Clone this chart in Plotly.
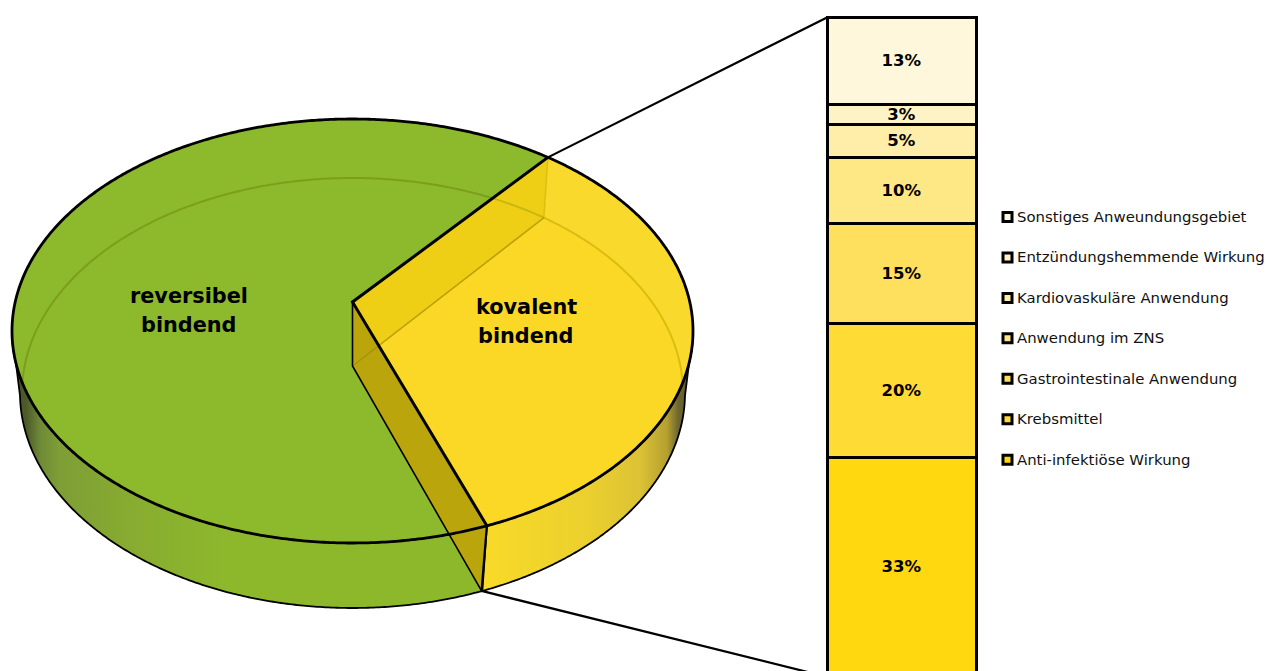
import numpy as np
import plotly.graph_objects as go

# Pie: binding mode shares
pie_labels = ["reversibel\nbindend", "kovalent\nbindend"]
pie_shares = [66.7, 33.3]
pie_start_deg = 39.8

# Column: breakdown of the covalent share, top to bottom
bar_categories = [
    "Sonstiges Anweundungsgebiet",
    "Entzündungshemmende Wirkung",
    "Kardiovaskuläre Anwendung",
    "Anwendung im ZNS",
    "Gastrointestinale Anwendung",
    "Krebsmittel",
    "Anti-infektiöse Wirkung",
]
bar_values = [13, 3, 5, 10, 15, 20, 33]
bar_colors = ["#FEF7DC", "#FEF3C6", "#FEEEAA", "#FEE886", "#FFE05E", "#FFDB36", "#FFD80F"]

W, H = 1268, 671
FONT = "DejaVu Sans"

# Perspective disc: far edge, apex, near edge (y) and half width for each face
TOP_FACE = dict(cx=352.5, far=119, apex=302, near=543, half=340.5)
BASE_FACE = dict(cx=352.5, far=178, apex=366, near=608, half=330.5)
# The visible outer wall flares a little wider than the see-through base line
WALL_BASE = dict(BASE_FACE, half=332.5)

# Column placement on the page
BAR_LEFT, BAR_RIGHT = 827, 976
BAR_TOP_PX, PX_PER_PCT = 17.5, 6.66


def project(face, deg):
    """Map clockwise-from-north angles on the disc to page coordinates."""
    t = np.radians(np.asarray(deg, dtype=float))
    u, v = np.sin(t), -np.cos(t)
    f, a, n = face["far"], face["apex"], face["near"]
    p = (2 * a - f - n) / (n - f)
    k = n + n * p - a
    w = 1 + p * v
    amp = face["half"] * np.sqrt(1 - p * p)
    return face["cx"] + amp * u / w, (k * v + a) / w


def arc(face, d0, d1, n=240):
    return project(face, np.linspace(d0, d1, n))


def inside_top(x, y):
    cy = (TOP_FACE["far"] + TOP_FACE["near"]) / 2
    ry = (TOP_FACE["near"] - TOP_FACE["far"]) / 2
    return ((x - TOP_FACE["cx"]) / TOP_FACE["half"]) ** 2 + ((y - cy) / ry) ** 2 < 1


split_a = pie_start_deg
split_b = pie_start_deg + pie_shares[1] / sum(pie_shares) * 360
LEFT_EXT, RIGHT_EXT = 262, 98

fig = go.Figure()


def poly(xs, ys, fill=None, line=None, width=0, gradient=None, close=True):
    kw = {}
    if close:
        kw["fill"] = "toself"
        if gradient is not None:
            kw["fillgradient"] = gradient
        elif fill is not None:
            kw["fillcolor"] = fill
    fig.add_trace(go.Scatter(
        x=xs, y=ys, mode="lines", showlegend=False, hoverinfo="skip",
        line=dict(color=line or "rgba(0,0,0,0)", width=width, simplify=False),
        **kw,
    ))


def wall(d0, d1):
    tx, ty = arc(TOP_FACE, d0, d1)
    bx, by = arc(WALL_BASE, d0, d1)
    return np.r_[tx, bx[::-1], tx[0]], np.r_[ty, by[::-1], ty[0]]


# Outer walls with their shaded edges
xs, ys = wall(split_b, LEFT_EXT)
poly(xs, ys, line="#000000", width=1.8, gradient=dict(
    type="horizontal", start=12, stop=482,
    colorscale=[[0, "#45502A"], [0.03, "#4E5A28"], [0.06, "#6E8A38"], [0.1, "#7E9E36"],
                [0.26, "#88AC30"], [0.45, "#8DB82C"], [1, "#8DB82C"]],
))
xs, ys = wall(RIGHT_EXT, split_b)
poly(xs, ys, line="#000000", width=1.8, gradient=dict(
    type="horizontal", start=482, stop=693,
    colorscale=[[0, "#F9DA28"], [0.5, "#EBD02E"], [0.75, "#DCC235"], [0.877, "#B5A030"],
                [0.93, "#6E6630"], [1, "#5A5428"]],
))

# Top face slices
ax, ay = TOP_FACE["cx"], TOP_FACE["apex"]
bx0, by0 = BASE_FACE["cx"], BASE_FACE["apex"]
gx, gy = arc(TOP_FACE, split_b, split_a + 360, 480)
poly(np.r_[ax, gx, ax], np.r_[ay, gy, ay], fill="#8DB92D")
yx, yy = arc(TOP_FACE, split_a, split_b)
poly(np.r_[ax, yx, ax], np.r_[ay, yy, ay], fill="#FBD826")

# Rim band of the covalent slice where the base face ends inside the top face
ybx, yby = arc(BASE_FACE, split_a, split_b, 480)
keep = inside_top(ybx, yby) & (ybx > 500) & (yby < 400)
band_top = yy < yby[keep][-1]
poly(np.r_[ybx[keep], yx[band_top][::-1]], np.r_[yby[keep], yy[band_top][::-1]], fill="#F8D92C")

# Base face showing through the translucent slices
gbx, gby = arc(BASE_FACE, split_b, split_a + 360, 480)
vis = inside_top(gbx, gby) & (gby < 400)
poly(gbx[vis], gby[vis], line="rgba(100,125,0,0.42)", width=2, close=False)
poly(ybx[keep], yby[keep], line="rgba(200,170,0,0.6)", width=2, close=False)

# Cut faces of the covalent wedge: far one first, then the near one
fx_t, fy_t = project(TOP_FACE, [split_a])
fx_b, fy_b = project(BASE_FACE, [split_a])
poly([ax, fx_t[0], fx_b[0], bx0, ax], [ay, fy_t[0], fy_b[0], by0, ay], fill="rgba(222,192,0,0.42)")
poly([fx_t[0], fx_b[0], bx0], [fy_t[0], fy_b[0], by0], line="rgba(205,175,0,0.55)", width=1.5, close=False)
nx_t, ny_t = project(TOP_FACE, [split_b])
nx_b, ny_b = project(BASE_FACE, [split_b])
poly([ax, nx_t[0], nx_b[0], bx0, ax], [ay, ny_t[0], ny_b[0], by0, ay], fill="#BAA50D")
poly([fx_b[0], bx0], [fy_b[0], by0], line="rgba(150,130,0,0.5)", width=1.5, close=False)
poly([ax, bx0, nx_b[0]], [ay, by0, ny_b[0]], line="#000000", width=1.6, close=False)
poly([nx_t[0], nx_b[0]], [ny_t[0], ny_b[0]], line="#000000", width=2.2, close=False)

# Outlines of the top face
poly(gx, gy, line="#000000", width=2.8, close=False)
poly(yx, yy, line="#000000", width=2.8, close=False)
poly([fx_t[0], ax, nx_t[0]], [fy_t[0], ay, ny_t[0]], line="#000000", width=3, close=False)

# Connectors from the wedge to the column
col_bottom_px = BAR_TOP_PX + sum(bar_values) * PX_PER_PCT
poly([fx_t[0], BAR_LEFT], [fy_t[0], BAR_TOP_PX], line="#000000", width=2.2, close=False)
poly([nx_b[0], BAR_LEFT], [ny_b[0], col_bottom_px], line="#000000", width=2.2, close=False)

# Stacked column, lowest segment first
for name, val, col in reversed(list(zip(bar_categories, bar_values, bar_colors))):
    fig.add_trace(go.Bar(
        x=[(BAR_LEFT + BAR_RIGHT) / 2], y=[val], width=[BAR_RIGHT - BAR_LEFT], name=name,
        yaxis="y2", marker=dict(color=col, line=dict(color="#000000", width=3)),
        text=[f"{val}%"], textposition="inside", insidetextanchor="middle", textangle=0,
        constraintext="none", cliponaxis=False, showlegend=False, hoverinfo="name+y",
        textfont=dict(family=FONT, size=16.5, color="#000000", weight="bold"),
    ))

# Key beside the column
KEY_X, KEY_TEXT_X, KEY_TOP, KEY_STEP = 1007.5, 1015, 217, 40.45
key_y = [KEY_TOP + i * KEY_STEP for i in range(len(bar_categories))]
fig.add_trace(go.Scatter(
    x=[KEY_X] * len(bar_categories), y=key_y, mode="markers",
    marker=dict(symbol="square", size=9, color=bar_colors, line=dict(color="#000000", width=3)),
    showlegend=False, hoverinfo="skip",
))
annotations = [
    dict(x=KEY_TEXT_X, y=y, xref="x", yref="y", xanchor="left", yanchor="middle", showarrow=False,
         text=name, font=dict(family=FONT, size=14.9, color="#111111"))
    for name, y in zip(bar_categories, key_y)
]

# Slice captions, one annotation per line
caption_pos = [(189, 296), (526, 307)]
CAPTION_LINE_GAP = 28.5
for label, (x, y) in zip(pie_labels, caption_pos):
    for i, part in enumerate(label.split("\n")):
        annotations.append(dict(
            x=x, y=y + i * CAPTION_LINE_GAP, xref="x", yref="y", showarrow=False,
            text=part, font=dict(family=FONT, size=20.8, color="#000000", weight="bold"),
        ))

pct_at_page_top = sum(bar_values) + BAR_TOP_PX / PX_PER_PCT
pct_at_page_bottom = sum(bar_values) - (H - BAR_TOP_PX) / PX_PER_PCT

fig.update_layout(
    width=W, height=H, autosize=False, margin=dict(l=0, r=0, t=0, b=0),
    paper_bgcolor="#FFFFFF", plot_bgcolor="#FFFFFF", barmode="stack",
    showlegend=False, annotations=annotations,
    xaxis=dict(range=[0, W], visible=False, fixedrange=True, domain=[0, 1]),
    yaxis=dict(range=[H, 0], visible=False, fixedrange=True, domain=[0, 1]),
    yaxis2=dict(range=[pct_at_page_bottom, pct_at_page_top], visible=False,
                overlaying="y", fixedrange=True),
)

fig.write_html("out.html", config=dict(displayModeBar=False))
